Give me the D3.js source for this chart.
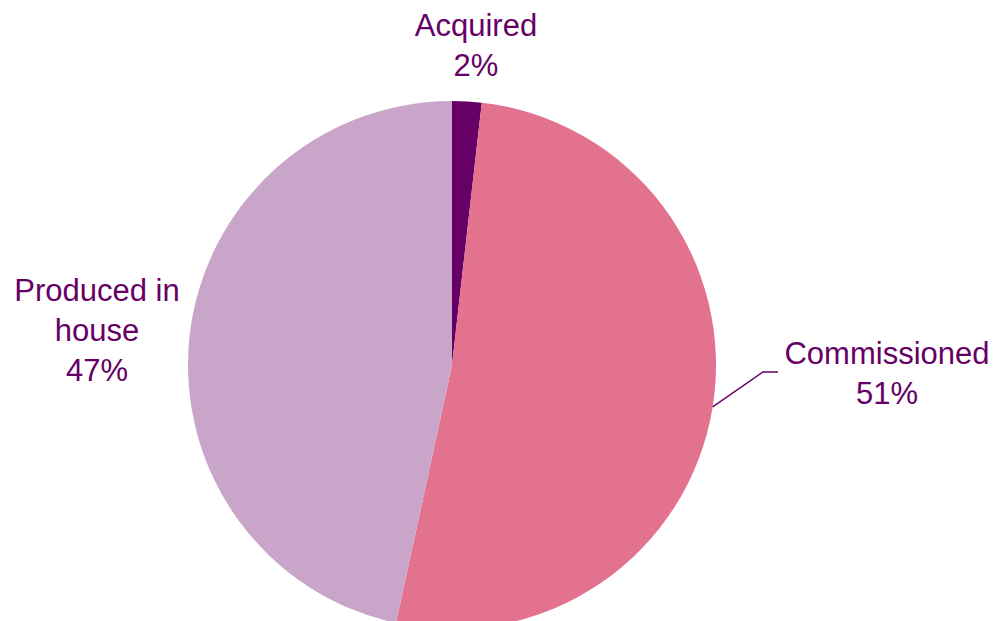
<!DOCTYPE html>
<html><head><meta charset="utf-8">
<script src="https://cdn.jsdelivr.net/npm/d3@7"></script>
<style>html,body{margin:0;padding:0;background:#fff;}svg{display:block;}</style>
</head><body>
<svg id="chart" width="997" height="621"></svg>
<script>
const categories = ["Acquired", "Commissioned", "Produced in house"];
const values = [1.8, 51.6, 46.6];
const pctLabels = ["2%", "51%", "47%"];
const colors = ["#660066", "#E3728F", "#C9A5C9"];

const svg = d3.select("#chart");
const cx = 452, cy = 365, r = 264;
const g = svg.append("g").attr("transform", `translate(${cx},${cy})`);

const pie = d3.pie().sort(null).value(d => d.v);
const arcs = pie(categories.map((c, i) => ({c, v: values[i], i})));
const arc = d3.arc().innerRadius(0).outerRadius(r);

g.selectAll("path").data(arcs).enter().append("path")
  .attr("d", arc).attr("fill", d => colors[d.data.i]);

const textColor = "#660066";
const font = "'Liberation Sans', Arial, sans-serif";
const labelPos = [
  {x: 476, y: 36, lines: ["Acquired"]},
  {x: 887, y: 364, lines: ["Commissioned"]},
  {x: 97, y: 301, lines: ["Produced in", "house"]}
];
const lh = 40;
labelPos.forEach((p, i) => {
  const t = svg.append("text").attr("font-family", font).attr("font-size", 31)
    .attr("fill", textColor).attr("text-anchor", "middle");
  const lines = p.lines.concat([pctLabels[i]]);
  lines.forEach((l, k) => t.append("tspan").attr("x", p.x).attr("y", p.y + k * lh).text(l));
});

// leader line for Commissioned
const a = arcs[1];
const mid = (a.startAngle + a.endAngle) / 2;
// point on edge
const ang = 1.73; // approx edge angle where leader meets the pie (radians from top, clockwise)
const ex = cx + r * Math.sin(ang), ey = cy - r * Math.cos(ang);
svg.append("polyline")
  .attr("points", [[ex, ey], [763, 372], [778, 372]].map(p => p.join(",")).join(" "))
  .attr("fill", "none").attr("stroke", textColor).attr("stroke-width", 1.5);
</script>
</body></html>
